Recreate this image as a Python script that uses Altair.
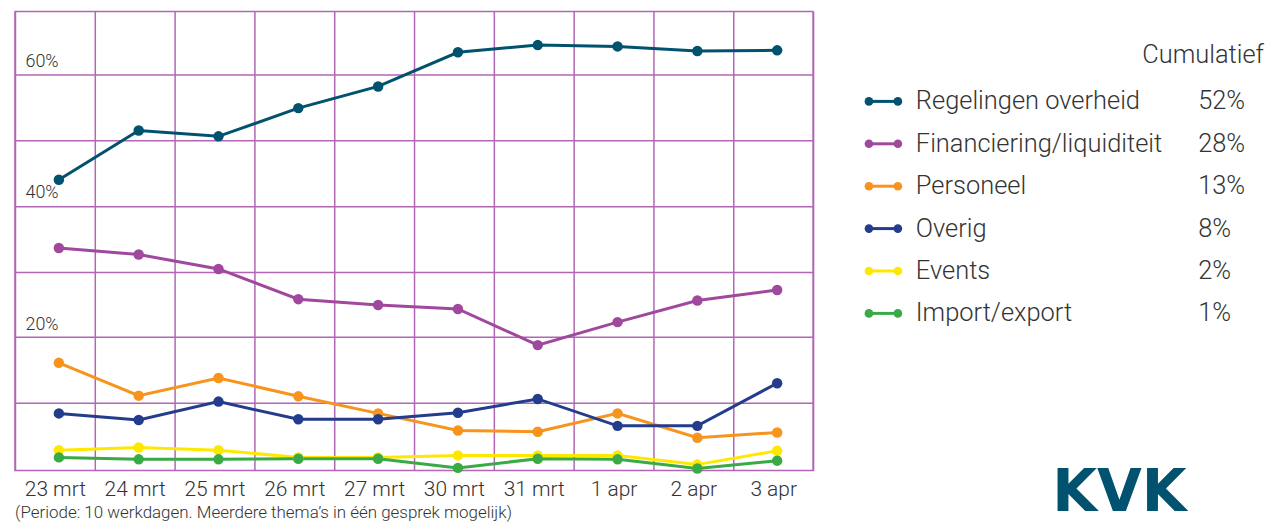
import altair as alt
import pandas as pd

dates = ["23 mrt", "24 mrt", "25 mrt", "26 mrt", "27 mrt", "30 mrt", "31 mrt", "1 apr", "2 apr", "3 apr"]
names = ["Regelingen overheid", "Financiering/liquiditeit", "Personeel", "Overig", "Events", "Import/export"]
colors = ["#00526e", "#a0489d", "#f7941d", "#243c8c", "#ffe800", "#3aaa47"]
cumulatief = ["52%", "28%", "13%", "8%", "2%", "1%"]

regelingen = [44.0, 51.5, 50.6, 54.9, 58.2, 63.4, 64.5, 64.3, 63.6, 63.7]
financiering = [33.6, 32.6, 30.4, 25.8, 24.9, 24.3, 18.8, 22.3, 25.6, 27.2]
personeel = [16.1, 11.1, 13.8, 11.0, 8.4, 5.8, 5.6, 8.4, 4.7, 5.5]
overig = [8.4, 7.4, 10.2, 7.5, 7.5, 8.5, 10.6, 6.5, 6.5, 13.0]
events = [2.8, 3.2, 2.8, 1.7, 1.7, 2.0, 2.0, 2.0, 0.6, 2.7]
importexport = [1.7, 1.4, 1.4, 1.5, 1.5, 0.1, 1.5, 1.4, 0.0, 1.2]

series = [regelingen, financiering, personeel, overig, events, importexport]
rows = []
for n, vals in zip(names, series):
    for d, v in zip(dates, vals):
        rows.append({"date": d, "series": n, "value": v})
df = pd.DataFrame(rows)

grid_color = "#b266b5"
text_color = "#333333"
FONT = "Roboto"

color_scale = alt.Scale(domain=names, range=colors)

main = alt.Chart(df).mark_line(
    strokeWidth=3,
    point=alt.OverlayMarkDef(filled=True, size=110, opacity=1),
).encode(
    x=alt.X(
        "date:N",
        sort=dates,
        bandPosition=0.55,
        scale=alt.Scale(type="band", paddingInner=0, paddingOuter=0),
        axis=alt.Axis(
            title=None, tickBand="extent", labelAngle=0, labelFontSize=21,
            labelPadding=8, ticks=False, tickSize=0, domain=False, grid=True,
            gridColor=grid_color, gridWidth=1.5, gridOpacity=1,
            labelColor=text_color, labelFont=FONT, labelFontWeight=300,
        ),
    ),
    y=alt.Y(
        "value:Q",
        scale=alt.Scale(domain=[-0.3, 69.6], nice=False, zero=False),
        axis=alt.Axis(
            title=None, values=[10, 20, 30, 40, 50, 60],
            labelExpr="datum.value % 20 == 0 ? datum.value + '%' : ''",
            labelAlign="left", labelPadding=-10, labelOffset=-8,
            labelBaseline="alphabetic", ticks=False, tickSize=0, domain=False,
            grid=True, gridColor=grid_color, gridWidth=1.5, gridOpacity=1,
            labelFontSize=18, labelColor=text_color, labelFont=FONT, labelFontWeight=300,
        ),
    ),
    color=alt.Color("series:N", scale=color_scale, legend=None),
).properties(
    width=800, height=460,
    view=alt.ViewBackground(stroke=grid_color, strokeWidth=1.5),
    title=alt.TitleParams(
        "(Periode: 10 werkdagen. Meerdere thema\u2019s in \u00e9\u00e9n gesprek mogelijk)",
        orient="bottom", anchor="start", fontSize=17, fontWeight=300,
        color=text_color, font=FONT, offset=6,
    ),
)

leg_df = pd.DataFrame({"series": names, "pct": cumulatief, "row": list(range(len(names)))})
hdr_df = pd.DataFrame({"label": ["Cumulatief"], "row": [-1.1]})
logo_df = pd.DataFrame({"label": ["KVK"]})

yrow = alt.Y("row:Q", scale=alt.Scale(domain=[8.706, -2.118], nice=False, zero=False), axis=None)

leg_base = alt.Chart(leg_df)
sym_line = leg_base.mark_rule(strokeWidth=3).encode(
    x=alt.value(14), x2=alt.value(43), y=yrow,
    color=alt.Color("series:N", scale=color_scale, legend=None),
)
sym_p1 = leg_base.mark_circle(size=75, opacity=1).encode(
    x=alt.value(14), y=yrow, color=alt.Color("series:N", scale=color_scale, legend=None)
)
sym_p2 = leg_base.mark_circle(size=75, opacity=1).encode(
    x=alt.value(43), y=yrow, color=alt.Color("series:N", scale=color_scale, legend=None)
)
lab = leg_base.mark_text(align="left", baseline="middle", fontSize=25.5, font=FONT,
                         fontWeight=300, color=text_color).encode(
    x=alt.value(61), y=yrow, text="series:N"
)
pct = leg_base.mark_text(align="left", baseline="middle", fontSize=25.5, font=FONT,
                         fontWeight=300, color=text_color).encode(
    x=alt.value(344), y=yrow, text="pct:N"
)
hdr = alt.Chart(hdr_df).mark_text(align="right", baseline="middle", fontSize=25.5, font=FONT,
                                  fontWeight=300, color=text_color).encode(
    x=alt.value(410), y=yrow, text="label:N"
)
logo = alt.Chart(logo_df).mark_text(align="center", baseline="alphabetic", fontSize=58,
                                    font="DejaVu Sans", fontWeight=900, color="#00526e").encode(
    x=alt.value(265), y=alt.value(501), text="label:N"
)

legend = alt.layer(sym_line, sym_p1, sym_p2, lab, pct, hdr, logo).properties(
    width=410, height=460,
    view=alt.ViewBackground(stroke="transparent"),
)

chart = alt.hconcat(main, legend, spacing=40).properties(
    padding={"left": 6, "top": 2, "right": 0, "bottom": 0}
).resolve_scale(color="shared")

chart.save("out.html", embed_options={"renderer": "svg", "actions": False})
